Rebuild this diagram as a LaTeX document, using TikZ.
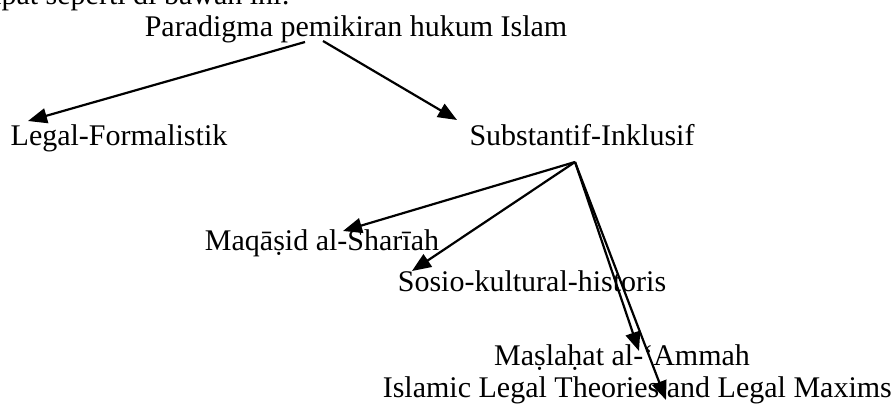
\documentclass[tikz,border=0pt]{standalone}
\usepackage{fontspec}
\setmainfont{Liberation Serif}
\usetikzlibrary{arrows.meta}
\begin{document}
\begin{tikzpicture}[x=1pt,y=1pt,
  lbl/.style={inner sep=0pt,anchor=base,font=\fontsize{30}{36}\selectfont},
  arr/.style={line width=2.2pt,-{Triangle[length=19pt,width=15pt]}}]
\useasboundingbox (0,0) rectangle (894,408);
\node[lbl,anchor=base east] (intro) at (290,403) {dapat seperti di bawah ini:};
\node[lbl] (root) at (356,371) {Paradigma pemikiran hukum Islam};
\node[lbl] (lf) at (119,263) {Legal-Formalistik};
\node[lbl] (si) at (582,263) {Substantif-Inklusif};
\node[lbl] (mq) at (322,158) {Maqāṣid al-Sharīah};
\node[lbl] (sk) at (532,117) {Sosio-kultural-historis};
\node[lbl] (ms) at (622,43) {Maṣlaḥat al-‘Ammah};
\node[lbl,anchor=base east] (il) at (892,11) {Islamic Legal Theories and Legal Maxims};
\coordinate (rootL) at (305,366);
\coordinate (rootR) at (323,367);
\coordinate (lfT) at (28,287);
\coordinate (siT) at (457,288);
\coordinate (hub) at (575,246);
\coordinate (mqT) at (343,177);
\coordinate (skT) at (412,137);
\coordinate (msT) at (639,57);
\coordinate (ilT) at (666,8);
\draw[arr] (rootL) -- (lfT);
\draw[arr] (rootR) -- (siT);
\draw[arr] (hub) -- (mqT);
\draw[arr] (hub) -- (skT);
\draw[arr] (hub) -- (msT);
\draw[arr] (hub) -- (ilT);
\end{tikzpicture}
\end{document}
